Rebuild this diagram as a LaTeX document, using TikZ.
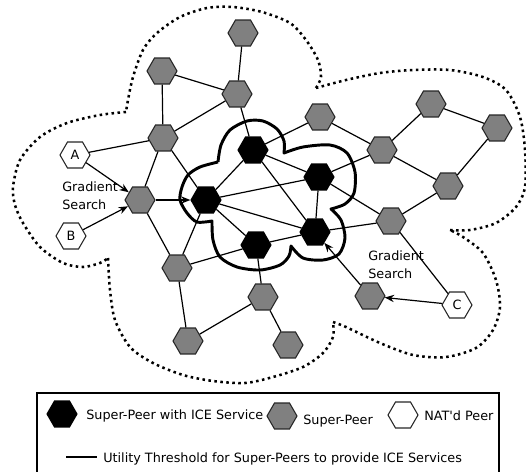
\documentclass[tikz,border=0pt]{standalone}
\usepackage{fontspec}
\setmainfont{DejaVu Sans}
\usepackage{tikz}
\usetikzlibrary{shapes.geometric,arrows.meta}
\definecolor{gris_pair}{HTML}{808080}

\tikzset{
  hexa/.style={regular polygon, regular polygon sides=6,
    minimum size=22.5pt, inner sep=0pt, draw=black!85, line width=0.8pt},
  superpair/.style={hexa, fill=gris_pair},
  superice/.style={hexa, fill=black, draw=black},
  natpair/.style={hexa, fill=white},
  lien/.style={line width=0.9pt},
  gradient/.style={lien, -{Stealth[length=7pt,width=5.5pt]}},
  nuage/.style={line width=1.9pt, dash pattern=on 1.9pt off 2.6pt},
  seuil/.style={line width=2.2pt, line join=round}
}

\begin{document}
\begin{tikzpicture}[x=0.75pt,y=-0.75pt,font=\fontsize{9.6}{12.8}\selectfont]

    % Cadre de l'image
    \useasboundingbox (0,0) rectangle (526,472);

    % Contour pointillé du réseau (un lobe à la fois)
    \draw[nuage] plot[smooth] coordinates {(316,88) (321,77) (318,60) (306,40) (290,23) (262,12) (233,7) (207,8) (180,17) (157,33) (143,50) (133,77) (128,100) (126,112)}
      plot[smooth] coordinates {(126,112) (100,115) (67,123) (40,137) (20,160) (13,187) (15,205) (23,223) (40,247) (63,263) (83,267) (100,263) (108,258)}
      plot[smooth] coordinates {(108,258) (110,290) (115,320) (130,347) (153,363) (183,375) (213,381) (245,383) (273,377) (303,367) (323,353) (333,337) (333,322)}
      plot[smooth] coordinates {(333,322) (346,327) (380,343) (413,355) (446,357) (476,348) (493,330) (500,307) (496,280) (483,253) (463,237) (450,230)}
      plot[smooth] coordinates {(450,230) (470,230) (496,223) (516,207) (525,187) (525,150) (520,117) (506,90) (483,77) (450,70) (413,70) (380,73) (346,80) (316,88)};

    % Seuil d'utilité autour des super-pairs ICE
    \draw[seuil] plot[smooth] coordinates {(218,162) (221,145) (230,130) (247,121) (263,121) (277,129) (284,141) (284,153)}
      -- plot[smooth] coordinates {(284,153) (303,147) (330,145) (347,153) (355,172) (354,193) (345,204) (331,209)}
      -- plot[smooth] coordinates {(331,209) (341,220) (345,238) (339,254) (323,260) (303,258) (291,246)}
      -- plot[smooth] coordinates {(291,246) (289,256) (280,265) (260,270) (237,267) (220,257) (213,240) (212,221)}
      -- plot[smooth] coordinates {(212,221) (197,222) (187,213) (180,200) (182,187) (188,175) (200,167) (218,162)};

    % Super-pairs avec service ICE
    \node[superice] (i1) at (206,200) {};
    \node[superice] (i2) at (253,150) {};
    \node[superice] (i3) at (319,177) {};
    \node[superice] (i4) at (315,232) {};
    \node[superice] (i5) at (256,245) {};

    % Super-pairs
    \node[superpair] (s1) at (243,33) {};
    \node[superpair] (s2) at (162,71) {};
    \node[superpair] (s3) at (237,94) {};
    \node[superpair] (s4) at (163,138) {};
    \node[superpair] (s5) at (140,200) {};
    \node[superpair] (s6) at (177,268) {};
    \node[superpair] (s7) at (263,297) {};
    \node[superpair] (s8) at (188,341) {};
    \node[superpair] (s9) at (288,345) {};
    \node[superpair] (s10) at (320,117) {};
    \node[superpair] (s11) at (382,150) {};
    \node[superpair] (s12) at (431,104) {};
    \node[superpair] (s13) at (497,128) {};
    \node[superpair] (s14) at (448,186) {};
    \node[superpair] (s15) at (391,221) {};
    \node[superpair] (s16) at (370,296) {};

    % Pairs derrière un NAT
    \node[natpair] (pA) at (75,155) {A};
    \node[natpair] (pB) at (71,236) {B};
    \node[natpair] (pC) at (457,305) {C};

    % Liens entre pairs
    \draw[lien] (s1) -- (s3) (s2) -- (s3) (s2) -- (s4) (s3) -- (s4) (s3) -- (i2);
    \draw[lien] (s4) -- (pA) (s4) -- (s5) (s4) -- (i1) (s5) -- (s6) (s6) -- (i1);
    \draw[lien] (s6) -- (i5) (s6) -- (s8) (i5) -- (s7) (s7) -- (s8) (s7) -- (s9);
    \draw[lien] (i1) -- (i2) (i1) -- (i3) (i1) -- (i4) (i1) -- (i5);
    \draw[lien] (i2) -- (i3) (i2) -- (i4) (i3) -- (i4) (i4) -- (i5);
    \draw[lien] (i2) -- (s10) (i3) -- (s11) (i3) -- (s15) (i4) -- (s15);
    \draw[lien] (s10) -- (s11) (s11) -- (s12) (s11) -- (s14) (s12) -- (s13) (s13) -- (s14) (s14) -- (s15) (s15) -- (pC);

    % Recherche par gradient
    \draw[gradient] (pA) -- (s5);
    \draw[gradient] (pB) -- (s5);
    \draw[gradient] (s5) -- (i1);
    \draw[gradient] (pC) -- (s16);
    \draw[gradient] (s16) -- (i4);
    \node[anchor=north west, inner sep=0pt, align=left] (gs1) at (62,182) {Gradient\\Search};
    \node[anchor=north west, inner sep=0pt, align=left] (gs2) at (368,251) {Gradient\\Search};

    % Légende
    \draw[line width=0.8pt] (37,474) -- (37,393) -- (499,393) -- (499,474);
    \node[superice] (li) at (62,414) {};
    \node[anchor=base west, inner sep=0pt] (ti) at (86,419) {Super-Peer with ICE Service};
    \node[superpair] (lp) at (282,416) {};
    \node[anchor=base west, inner sep=0pt] (tp) at (303,424) {Super-Peer};
    \node[natpair] (ln) at (403,415) {};
    \node[anchor=base west, inner sep=0pt] (tn) at (424,420) {NAT\textquotesingle d Peer};
    \coordinate (l1) at (66,457);
    \coordinate (l2) at (97,457);
    \draw[seuil] (l1) -- (l2);
    \node[anchor=base west, inner sep=0pt] (ts) at (103,462) {Utility Threshold for Super-Peers to provide ICE Services};
  \end{tikzpicture}
\end{document}
